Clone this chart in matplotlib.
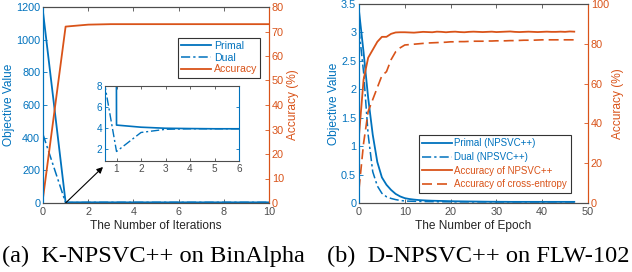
import matplotlib
matplotlib.use("Agg")
import matplotlib.pyplot as plt
import numpy as np

plt.rcParams['font.family'] = ['Liberation Sans', 'DejaVu Sans']

BLUE = '#0072BD'
ORANGE = '#D95319'
GRAY = '#4d4d4d'

# ---- Panel (a) data ----
iters = [0, 1, 2, 3, 4, 5, 6, 7, 8, 9, 10]
primal_a = [1170, 4.3, 4.1, 4.0, 3.97, 3.95, 3.95, 3.95, 3.95, 3.95, 3.95]
dual_a = [420, 1.8, 3.6, 3.9, 3.95, 3.95, 3.95, 3.95, 3.95, 3.95, 3.95]
acc_a = [2, 72, 72.8, 73, 73, 73, 73, 73, 73, 73, 73]

inset_x_primal = [0, 1, 2, 3, 4, 5, 6]
inset_primal = [1170, 4.3, 4.1, 4.0, 3.97, 3.95, 3.95]
inset_x_dual = [0.5, 1, 2, 3, 4, 5, 6]
inset_dual = [8.4, 1.8, 3.6, 3.9, 3.95, 3.95, 3.95]

# ---- Panel (b) data ----
epochs = list(range(48))
primal_b = [3.38, 2.65, 1.85, 1.2, 0.72, 0.45, 0.32, 0.23, 0.16, 0.115, 0.085,
            0.07, 0.06, 0.052, 0.047, 0.043, 0.04, 0.038, 0.036, 0.034, 0.032,
            0.03, 0.029, 0.028, 0.027, 0.026, 0.025, 0.024, 0.023, 0.022, 0.022,
            0.021, 0.021, 0.02, 0.02, 0.02, 0.02, 0.02, 0.02, 0.02, 0.02,
            0.02, 0.02, 0.02, 0.02, 0.02, 0.02, 0.02]
dual_b = [3.05, 2.3, 1.2, 0.55, 0.3, 0.17, 0.11, 0.08, 0.06, 0.045, 0.035,
          0.032, 0.03, 0.028, 0.026, 0.025, 0.024, 0.023, 0.022, 0.021, 0.021,
          0.02, 0.02, 0.02, 0.02, 0.02, 0.02, 0.02, 0.02, 0.02, 0.02,
          0.02, 0.02, 0.02, 0.02, 0.02, 0.02, 0.02, 0.02, 0.02, 0.02,
          0.02, 0.02, 0.02, 0.02, 0.02, 0.02, 0.02]
acc_npsvc = [34, 62, 73, 77, 81, 83.5, 83.5, 85, 85.7, 85.8, 85.8,
             85.7, 85.6, 85.8, 86.0, 85.9, 85.8, 86.1, 86.0, 85.8, 86.0,
             86.1, 85.9, 85.8, 86.0, 86.1, 86.0, 85.9, 86.0, 86.1, 85.9,
             86.0, 86.1, 86.2, 86.0, 85.9, 86.0, 86.1, 86.0, 85.9, 86.0,
             86.1, 86.0, 86.0, 86.1, 86.0, 86.2, 86.1]
acc_ce = [7, 30, 46, 52, 58, 64, 66, 72, 76, 78, 79.4,
          79.6, 79.8, 80.0, 80.2, 80.4, 80.5, 80.6, 80.7, 80.8, 81.0,
          81.0, 81.1, 81.1, 81.2, 81.3, 81.3, 81.3, 81.4, 81.4, 81.5,
          81.5, 81.5, 81.6, 81.6, 81.7, 81.8, 81.8, 81.8, 81.9, 82.0,
          82.0, 82.0, 82.0, 82.0, 82.0, 82.0, 82.0]

W, H = 632, 272
fig = plt.figure(figsize=(W / 100, H / 100), dpi=100)

FS = 7.8
LFS = 8.6
LEGFS_A = 7.6
LEGFS_B = 7.0

def pix_axes(x0, x1, y0, y1):
    return fig.add_axes([x0 / W, 1 - y1 / H, (x1 - x0) / W, (y1 - y0) / H])

def style_pair(ax, ax2):
    for a in (ax, ax2):
        a.spines['top'].set_color(GRAY)
        a.spines['bottom'].set_color(GRAY)
        a.spines['top'].set_linewidth(0.8)
        a.spines['bottom'].set_linewidth(0.8)
    ax.spines['left'].set_color(BLUE)
    ax2.spines['left'].set_color(BLUE)
    ax.spines['right'].set_color(ORANGE)
    ax2.spines['right'].set_color(ORANGE)
    for a in (ax, ax2):
        a.spines['left'].set_linewidth(0.8)
        a.spines['right'].set_linewidth(0.8)
    ax.tick_params(axis='x', direction='in', top=True, bottom=True, length=3,
                   width=0.6, colors=GRAY, labelsize=FS, pad=3)
    ax.tick_params(axis='y', direction='in', left=True, right=False, length=3,
                   width=0.6, colors=BLUE, labelsize=FS, pad=2)
    ax2.tick_params(axis='y', direction='in', left=False, right=True, length=3,
                    width=0.6, colors=ORANGE, labelsize=FS, pad=2)

# ================= Panel (a) =================
ax = pix_axes(43, 269, 7, 203)
ax2 = ax.twinx()
ax.plot(iters, primal_a, color=BLUE, lw=1.3, label='Primal')
ax.plot(iters, dual_a, color=BLUE, lw=1.1, ls=(0, (6, 2, 1.5, 2)), label='Dual')
ax2.plot(iters, acc_a, color=ORANGE, lw=1.3, label='Accuracy')
ax.set_xlim(0, 10)
ax.set_ylim(0, 1200)
ax2.set_ylim(0, 80)
ax.set_xticks([0, 2, 4, 6, 8, 10])
ax.set_yticks(np.arange(0, 1201, 200))
ax2.set_yticks(np.arange(0, 81, 10))
style_pair(ax, ax2)
ax.set_xlabel('The Number of Iterations', fontsize=LFS, color='#262626', labelpad=2)
ax.set_ylabel('Objective Value', fontsize=LFS, color=BLUE, labelpad=1)
ax2.set_ylabel('Accuracy (%)', fontsize=LFS, color=ORANGE, labelpad=2)

h1, l1 = ax.get_legend_handles_labels()
h2, l2 = ax2.get_legend_handles_labels()
leg = ax2.legend(h1 + h2, l1 + l2, loc='upper left', bbox_to_anchor=((178 - 43) / 226, (203 - 38) / 196),
                 fontsize=LEGFS_A, frameon=True, fancybox=False, framealpha=1,
                 edgecolor='#333333', handlelength=2.8, handletextpad=0.3,
                 borderpad=0.3, labelspacing=0.15, borderaxespad=0)
leg.get_frame().set_linewidth(0.8)
for t, c in zip(leg.get_texts(), [BLUE, BLUE, ORANGE]):
    t.set_color(c)

# inset
axi = pix_axes(105, 239, 86, 161)
axi.plot(inset_x_primal, inset_primal, color=BLUE, lw=1.2)
axi.plot(inset_x_dual, inset_dual, color=BLUE, lw=1.0, ls=(0, (6, 2, 1.5, 2)))
axi.set_xlim(0.53, 6)
axi.set_ylim(0.9, 8)
axi.set_xticks([1, 2, 3, 4, 5, 6])
axi.set_yticks([2, 4, 6, 8])
for s in ('top', 'bottom'):
    axi.spines[s].set_color(GRAY)
    axi.spines[s].set_linewidth(0.8)
for s in ('left', 'right'):
    axi.spines[s].set_color(BLUE)
    axi.spines[s].set_linewidth(0.8)
axi.tick_params(axis='x', direction='in', top=True, length=2.5, width=0.6,
                colors=GRAY, labelsize=FS - 0.6, pad=2)
axi.tick_params(axis='y', direction='in', right=True, length=2.5, width=0.6,
                colors=BLUE, labelsize=FS - 0.6, pad=2)

ax.annotate('', xy=(-0.015, -0.08), xycoords=axi.transAxes,
            xytext=(1.0, 0), textcoords=ax.transData,
            arrowprops=dict(arrowstyle='-|>', color='black', lw=0.8,
                            mutation_scale=9, shrinkA=0, shrinkB=0),
            annotation_clip=False)

# ================= Panel (b) =================
bx = pix_axes(359, 588, 4, 203)
bx2 = bx.twinx()
bx.plot(epochs, primal_b, color=BLUE, lw=1.3, label='Primal (NPSVC++)')
bx.plot(epochs, dual_b, color=BLUE, lw=1.1, ls=(0, (6, 2, 1.5, 2)), label='Dual (NPSVC++)')
bx2.plot(epochs, acc_npsvc, color=ORANGE, lw=1.3, label='Accuracy of NPSVC++')
bx2.plot(epochs, acc_ce, color=ORANGE, lw=1.2, ls=(0, (6, 3)), label='Accuracy of cross-entropy')
bx.set_xlim(0, 50)
bx.set_ylim(0, 3.5)
bx2.set_ylim(0, 100)
bx.set_xticks([0, 10, 20, 30, 40, 50])
bx.set_yticks(np.arange(0, 3.51, 0.5))
bx.set_yticklabels(['0', '0.5', '1', '1.5', '2', '2.5', '3', '3.5'])
bx2.set_yticks(np.arange(0, 101, 20))
style_pair(bx, bx2)
bx.set_xlabel('The Number of Epoch', fontsize=LFS, color='#262626', labelpad=2)
bx.set_ylabel('Objective Value', fontsize=LFS, color=BLUE, labelpad=1)
bx2.set_ylabel('Accuracy (%)', fontsize=LFS, color=ORANGE, labelpad=2)

h1, l1 = bx.get_legend_handles_labels()
h2, l2 = bx2.get_legend_handles_labels()
leg2 = bx2.legend(h1 + h2, l1 + l2, loc='upper left',
                  bbox_to_anchor=((419 - 359) / 229, (203 - 135) / 199),
                  fontsize=LEGFS_B, frameon=True, fancybox=False, framealpha=1,
                  edgecolor='#333333', handlelength=3.0, handletextpad=0.3,
                  borderpad=0.35, labelspacing=0.38, borderaxespad=0)
leg2.get_frame().set_linewidth(0.8)
for t, c in zip(leg2.get_texts(), [BLUE, BLUE, ORANGE, ORANGE]):
    t.set_color(c)

# captions
fig.text(153 / W, 1 - 256 / H, '(a)  K-NPSVC++ on BinAlpha', ha='center', va='center',
         fontsize=17.6, family=['Liberation Serif', 'DejaVu Serif'])
fig.text(478 / W, 1 - 256 / H, '(b)  D-NPSVC++ on FLW-102', ha='center', va='center',
         fontsize=17.6, family=['Liberation Serif', 'DejaVu Serif'])

fig.savefig('out.png', dpi=100)
